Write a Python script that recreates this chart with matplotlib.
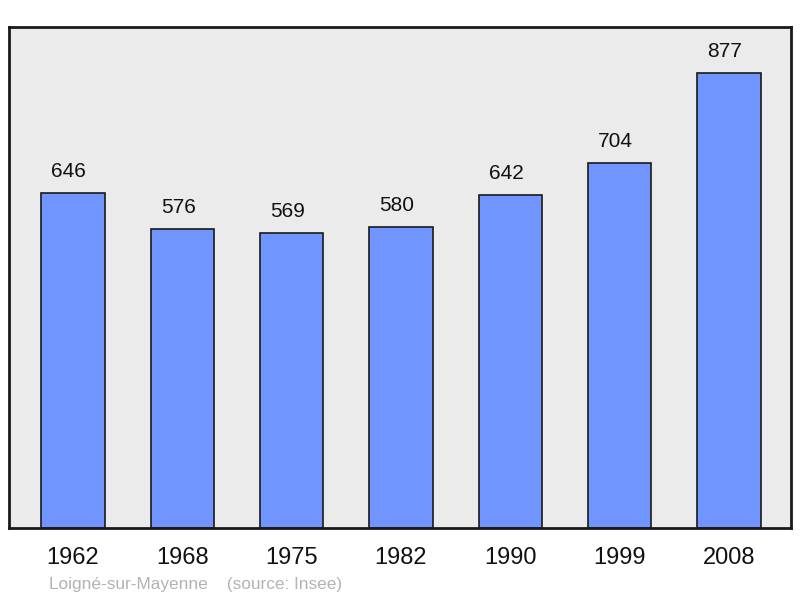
import matplotlib
matplotlib.use("Agg")
import matplotlib.pyplot as plt

years = ["1962", "1968", "1975", "1982", "1990", "1999", "2008"]
population = [646, 576, 569, 580, 642, 704, 877]
town = "Loigné-sur-Mayenne"
source = "(source: Insee)"

plt.rcParams['font.family'] = ['Liberation Sans', 'DejaVu Sans']

W, H = 800, 598
fig = plt.figure(figsize=(8, 5.98), dpi=100)
fig.patch.set_facecolor('white')
ax = fig.add_axes([9 / W, (H - 528) / H, 782 / W, 501 / H])
ax.set_facecolor('#ebebeb')

x = list(range(len(years)))
ax.bar(x, population, width=0.577, color='#7095ff', edgecolor='#1a1a1a', linewidth=1.2, zorder=2)
for xi, v in zip(x, population):
    ax.annotate(str(v), (xi, v), xytext=(-3, 8.5), textcoords='offset points',
                ha='center', va='bottom', fontsize=15, color='#111111')

ax.set_xlim(-0.585, 6.567)
ax.set_ylim(0, 965.5)
ax.set_xticks(x)
ax.set_xticklabels(years, fontsize=17, color='#111111')
ax.tick_params(axis='x', length=0, pad=14)
ax.set_yticks([])
for s in ax.spines.values():
    s.set_linewidth(2)
    s.set_color('#1a1a1a')

fig.text(49 / W, 1 - 584 / H, town + "    " + source, fontsize=12.4, color='#b3b3b3',
         ha='left', va='center')

fig.savefig("out.png", dpi=100)
